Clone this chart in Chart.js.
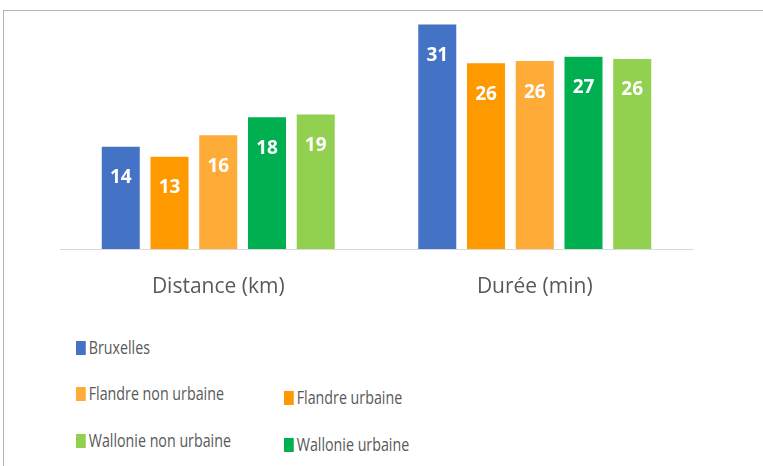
<!DOCTYPE html>
<html>
<head>
<meta charset="utf-8">
<script src="https://cdn.jsdelivr.net/npm/chart.js"></script>
<style>
  html, body { margin: 0; padding: 0; background: #fff; }
  body { width: 763px; height: 466px; position: relative; overflow: hidden; }
  #frame { position: absolute; left: 3px; top: 10px; right: 0; bottom: 0; border-left: 1px solid #b4b4b4; border-top: 1px solid #b4b4b4; }
  #wrap { position: absolute; left: 0; top: 0; width: 763px; height: 300px; }
  .leg { position: absolute; font-family: "Open Sans", sans-serif; font-size: 19px; color: #595959; white-space: nowrap; line-height: 20px; transform: scaleX(0.75); transform-origin: 0 50%; }
  .leg i { display: inline-block; width: 13px; height: 14px; margin-right: 4px; vertical-align: -1px; }
</style>
</head>
<body>
<div id="frame"></div>
<div id="wrap"><canvas id="c"></canvas></div>
<div id="legend"></div>
<script>
// categories and series (labels show them rounded)
var categories = ['Distance (km)', 'Durée (min)'];
var seriesNames = ['Bruxelles', 'Flandre urbaine', 'Flandre non urbaine', 'Wallonie urbaine', 'Wallonie non urbaine'];
var bruxelles = [14.2, 31.2];
var flandreUrbaine = [12.8, 25.8];
var flandreNonUrbaine = [15.8, 26.1];
var wallonieUrbaine = [18.3, 26.7];
var wallonieNonUrbaine = [18.7, 26.4];
var colors = ['#4472c4', '#ff9900', '#ffab38', '#00b050', '#92d050'];

// legend layout: [series index, left, top]
var legendSpots = [[0, 76, 337], [2, 76, 383], [1, 284, 387], [4, 76, 430], [3, 284, 434]];

var seriesData = [bruxelles, flandreUrbaine, flandreNonUrbaine, wallonieUrbaine, wallonieNonUrbaine];
var datasets = seriesNames.map(function(name, i){
  return { label: name, data: seriesData[i], backgroundColor: colors[i], borderWidth: 0,
           categoryPercentage: 0.77, barPercentage: 0.78 };
});

// white value labels inside the top of each bar
var valueLabels = {
  id: 'valueLabels',
  afterDatasetsDraw: function(chart){
    var ctx = chart.ctx;
    ctx.save();
    ctx.fillStyle = '#fff';
    ctx.font = 'bold 19px "Open Sans", sans-serif';
    ctx.textAlign = 'center';
    ctx.textBaseline = 'middle';
    chart.data.datasets.forEach(function(ds, i){
      chart.getDatasetMeta(i).data.forEach(function(bar, j){
        ctx.fillText(Math.round(ds.data[j]), bar.x, bar.y + 31);
      });
    });
    ctx.restore();
  }
};

new Chart(document.getElementById('c'), {
  type: 'bar',
  data: { labels: categories, datasets: datasets },
  options: {
    responsive: true, maintainAspectRatio: false, animation: false,
    layout: { padding: { left: 60, right: 70, top: 10, bottom: 1 } },
    plugins: { legend: { display: false }, tooltip: { enabled: false } },
    scales: {
      x: {
        grid: { display: false },
        border: { color: '#d9d9d9', width: 1 },
        ticks: { color: '#595959', padding: 17, maxRotation: 0, font: { family: '"Open Sans", sans-serif', size: 21 } },
        afterFit: function(scale){ scale.height = 50; }
      },
      y: { display: false, min: 0, max: 33.2 }
    }
  },
  plugins: [valueLabels]
});

var leg = document.getElementById('legend');
legendSpots.forEach(function(s){
  var d = document.createElement('div');
  d.className = 'leg';
  d.style.left = s[1] + 'px';
  d.style.top = s[2] + 'px';
  d.innerHTML = '<i style="background:' + colors[s[0]] + '"></i>' + seriesNames[s[0]];
  leg.appendChild(d);
});
</script>
</body>
</html>
